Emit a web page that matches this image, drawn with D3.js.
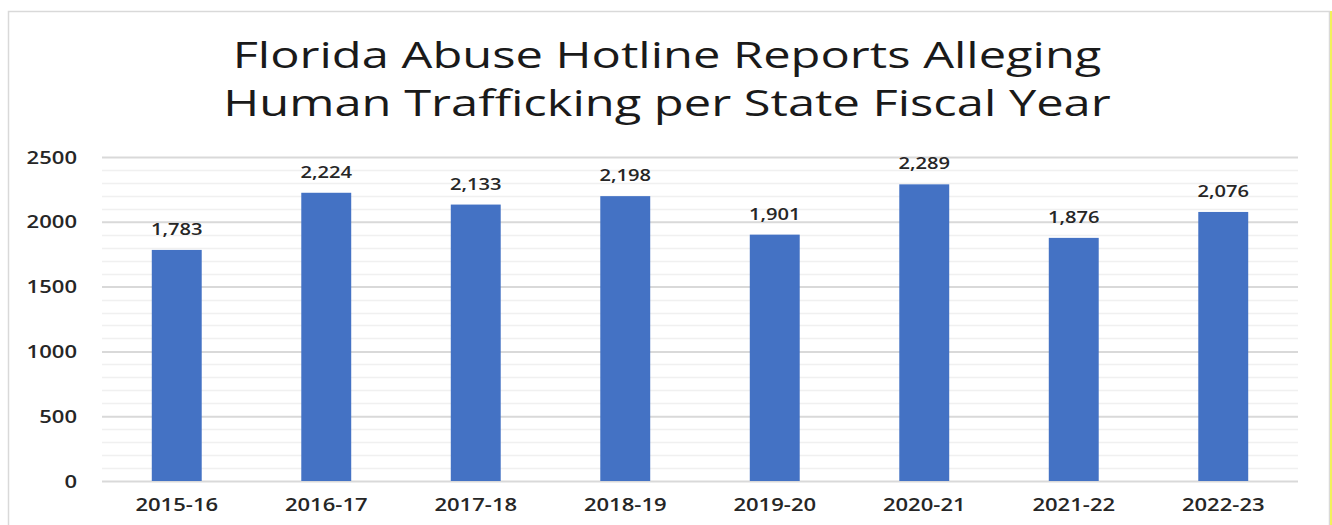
<!DOCTYPE html>
<html><head><meta charset="utf-8">
<script src="https://cdn.jsdelivr.net/npm/d3@7"></script>
<style>body{margin:0;background:#fff;}svg{display:block;}</style>
</head><body>
<svg id="c" width="1332" height="525"></svg>
<script>
const categories = ["2015-16","2016-17","2017-18","2018-19","2019-20","2020-21","2021-22","2022-23"];
const values = [1783,2224,2133,2198,1901,2289,1876,2076];
const yTicks = [0,500,1000,1500,2000,2500];
const titleLines = ["Florida Abuse Hotline Reports Alleging","Human Trafficking per State Fiscal Year"];

const SX = 1.26; // horizontal stretch of all text, as in the reference image
const svg = d3.select("#c");
// chart frame
svg.append("rect").attr("x",8.5).attr("y",11.5).attr("width",1321).attr("height",520).attr("fill","#fff").attr("stroke","#d9d9d9").attr("stroke-width",1.5);
svg.append("line").attr("x1",1331).attr("x2",1331).attr("y1",11).attr("y2",525).attr("stroke","#f2f25a").attr("stroke-width",2);

const m = {left:102,right:1298,top:157,bottom:481};
const x = d3.scaleBand().domain(categories).range([m.left,m.right]).paddingInner(0.666).paddingOuter(0.333);
const y = d3.scaleLinear().domain([0,2500]).range([m.bottom,m.top]);

function stretched(g, sx){
  return g.attr("transform", function(){ const t=d3.select(this); return `translate(${t.attr("data-x")},${t.attr("data-y")}) scale(${sx},1)`; });
}

// minor gridlines
const minor = d3.range(0,2501,100).filter(v=>v%500!==0);
svg.append("g").selectAll("line").data(minor).join("line")
  .attr("x1",m.left).attr("x2",m.right).attr("y1",d=>Math.round(y(d))+0.5).attr("y2",d=>Math.round(y(d))+0.5)
  .attr("stroke","#f0f0f0").attr("stroke-width",1.5);
// major gridlines
const yAxis = d3.axisLeft(y).tickValues(yTicks).tickSize(-(m.right-m.left)).tickFormat("");
const ga = svg.append("g").attr("transform",`translate(${m.left},0)`).call(yAxis);
ga.select(".domain").remove();
ga.selectAll(".tick line").attr("stroke","#d9d9d9").attr("stroke-width",2);

const lblFont = {family:"Open Sans", weight:"600", fill:"#262626"};
// y labels
svg.append("g").selectAll("text").data(yTicks).join("text")
  .attr("data-x",77).attr("data-y",d=>y(d)+6.5)
  .attr("text-anchor","end").attr("font-family",lblFont.family).attr("font-weight",lblFont.weight)
  .attr("font-size","17.5px").attr("fill",lblFont.fill).text(d=>d3.format("d")(d))
  .call(stretched, SX);

// bars
svg.append("g").selectAll("rect").data(values).join("rect")
  .attr("x",(d,i)=>x(categories[i])).attr("width",x.bandwidth())
  .attr("y",d=>y(d)).attr("height",d=>y(0)-y(d)).attr("fill","#4472c4");

// value labels
svg.append("g").selectAll("text").data(values).join("text")
  .attr("data-x",(d,i)=>x(categories[i])+x.bandwidth()/2).attr("data-y",d=>y(d)-15)
  .attr("text-anchor","middle").attr("font-family",lblFont.family).attr("font-weight",lblFont.weight)
  .attr("font-size","16px").attr("fill",lblFont.fill)
  .text(d=>d3.format(",")(d))
  .call(stretched, SX);

// x labels
svg.append("g").selectAll("text").data(categories).join("text")
  .attr("data-x",d=>x(d)+x.bandwidth()/2).attr("data-y",511)
  .attr("text-anchor","middle").attr("font-family",lblFont.family).attr("font-weight",lblFont.weight)
  .attr("font-size","17.5px").attr("fill",lblFont.fill).text(d=>d)
  .call(stretched, SX);

// title
svg.append("g").selectAll("text").data(titleLines).join("text")
  .attr("data-x",667).attr("data-y",(d,i)=>68+i*48).attr("text-anchor","middle")
  .attr("font-family","Open Sans").attr("font-size","37px").attr("fill","#1a1a1a")
  .text(d=>d)
  .call(stretched, 1.32);
</script>
</body></html>
